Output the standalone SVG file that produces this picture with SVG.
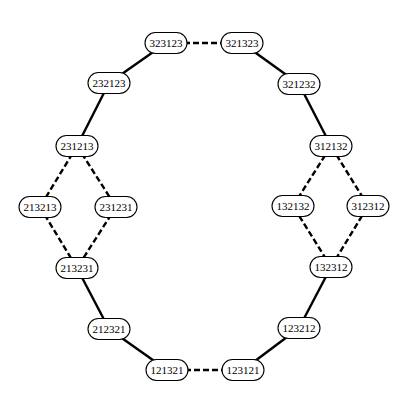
<svg xmlns="http://www.w3.org/2000/svg" width="410" height="415" viewBox="0 0 410 415">
<style>
.n rect{fill:#fff;stroke:#000;stroke-width:1.1}
.n text{font-family:"Liberation Serif",serif;font-size:11px;text-anchor:middle;dominant-baseline:central;fill:#000}
.s{stroke:#000;stroke-width:2.4;fill:none}
.d{stroke:#000;stroke-width:2.4;fill:none;stroke-dasharray:6,3}
</style>
<rect width="410" height="415" fill="#fff"/>
<g id="edges">
<line class="d" x1="166" y1="43" x2="242" y2="43"/>
<line class="s" x1="166" y1="43" x2="109" y2="83"/>
<line class="s" x1="109" y1="83" x2="77" y2="146"/>
<line class="d" x1="77" y1="146" x2="40" y2="207"/>
<line class="d" x1="77" y1="146" x2="116" y2="207"/>
<line class="d" x1="40" y1="207" x2="77" y2="268"/>
<line class="d" x1="116" y1="207" x2="77" y2="268"/>
<line class="s" x1="77" y1="268" x2="109" y2="329"/>
<line class="s" x1="109" y1="329" x2="167" y2="370"/>
<line class="d" x1="167" y1="370" x2="243" y2="370"/>
<line class="s" x1="243" y1="370" x2="299" y2="328"/>
<line class="s" x1="299" y1="328" x2="331" y2="267"/>
<line class="d" x1="331" y1="267" x2="293" y2="206"/>
<line class="d" x1="331" y1="267" x2="368" y2="206"/>
<line class="d" x1="293" y1="206" x2="331" y2="146"/>
<line class="d" x1="368" y1="206" x2="331" y2="146"/>
<line class="s" x1="331" y1="146" x2="299" y2="84"/>
<line class="s" x1="299" y1="84" x2="242" y2="43"/>
</g>
<g id="n323123" class="n"><rect x="145" y="32.5" width="42" height="21" rx="10.5"/><text x="166" y="43">323123</text></g>
<g id="n321323" class="n"><rect x="221" y="32.5" width="42" height="21" rx="10.5"/><text x="242" y="43">321323</text></g>
<g id="n232123" class="n"><rect x="88" y="72.5" width="42" height="21" rx="10.5"/><text x="109" y="83">232123</text></g>
<g id="n321232" class="n"><rect x="278" y="73.5" width="42" height="21" rx="10.5"/><text x="299" y="84">321232</text></g>
<g id="n231213" class="n"><rect x="56" y="135.5" width="42" height="21" rx="10.5"/><text x="77" y="146">231213</text></g>
<g id="n213213" class="n"><rect x="19" y="196.5" width="42" height="21" rx="10.5"/><text x="40" y="207">213213</text></g>
<g id="n231231" class="n"><rect x="95" y="196.5" width="42" height="21" rx="10.5"/><text x="116" y="207">231231</text></g>
<g id="n213231" class="n"><rect x="56" y="257.5" width="42" height="21" rx="10.5"/><text x="77" y="268">213231</text></g>
<g id="n212321" class="n"><rect x="88" y="318.5" width="42" height="21" rx="10.5"/><text x="109" y="329">212321</text></g>
<g id="n121321" class="n"><rect x="146" y="359.5" width="42" height="21" rx="10.5"/><text x="167" y="370">121321</text></g>
<g id="n123121" class="n"><rect x="222" y="359.5" width="42" height="21" rx="10.5"/><text x="243" y="370">123121</text></g>
<g id="n123212" class="n"><rect x="278" y="317.5" width="42" height="21" rx="10.5"/><text x="299" y="328">123212</text></g>
<g id="n312132" class="n"><rect x="310" y="135.5" width="42" height="21" rx="10.5"/><text x="331" y="146">312132</text></g>
<g id="n132132" class="n"><rect x="272" y="195.5" width="42" height="21" rx="10.5"/><text x="293" y="206">132132</text></g>
<g id="n312312" class="n"><rect x="347" y="195.5" width="42" height="21" rx="10.5"/><text x="368" y="206">312312</text></g>
<g id="n132312" class="n"><rect x="310" y="256.5" width="42" height="21" rx="10.5"/><text x="331" y="267">132312</text></g>
</svg>
